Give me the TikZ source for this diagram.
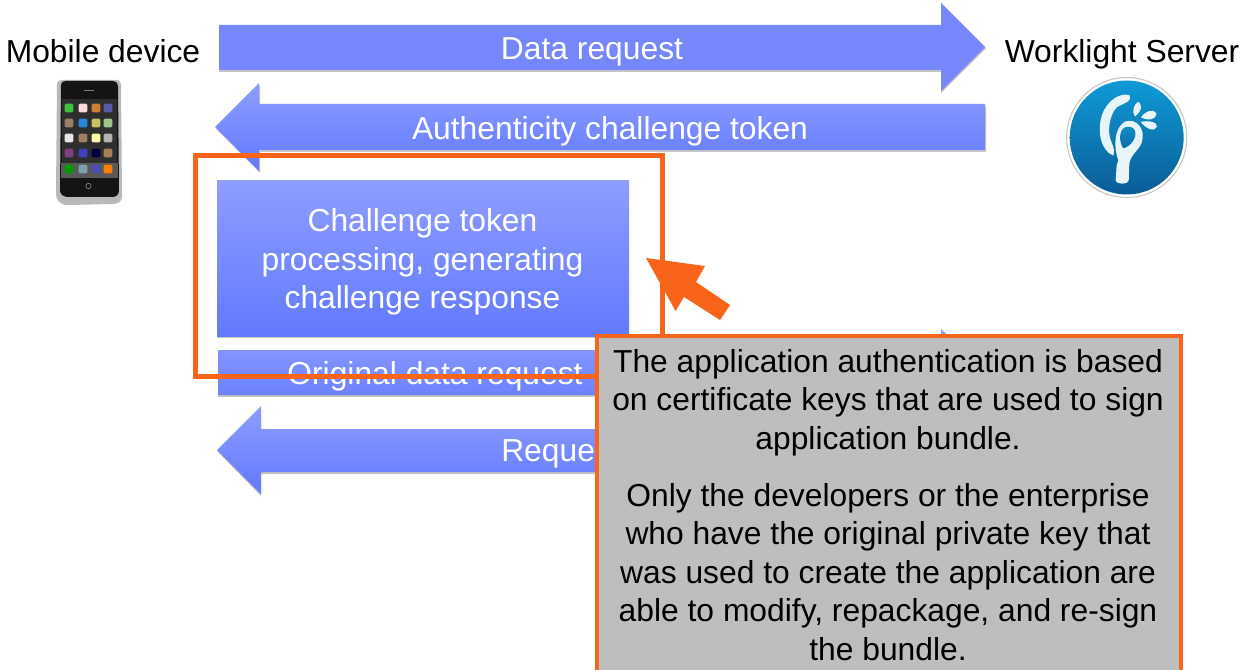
\documentclass[tikz,border=0pt]{standalone}
\usepackage{fontspec}
\setmainfont{Liberation Sans}
\definecolor{orng}{HTML}{F8651A}
\definecolor{grayfill}{HTML}{BEBEBE}
\definecolor{flatblue}{HTML}{7686FB}
\definecolor{gradtop}{HTML}{8E9DFF}
\definecolor{gradbot}{HTML}{6279FF}
\definecolor{shad}{HTML}{C4C4C4}
\definecolor{lblue}{HTML}{0F9AD6}
\definecolor{dblue}{HTML}{0A5C96}
\tikzset{
  lab/.style={font=\fontsize{23.85}{28.9}\selectfont, inner sep=0pt, align=center},
  whitelab/.style={lab, text=white},
  blackflat/.style={lab, text=black},
  gradfill/.style={top color=gradtop, bottom color=gradbot, draw=none},
  flatfill/.style={fill=flatblue, draw=none},
  shadowfill/.style={fill=shad, draw=none},
  icon/.style={minimum size=6.6pt, inner sep=0pt, rounded corners=1pt, draw=none},
  glyph/.style={fill=white!90!lblue, draw=none}
}
\begin{document}
\begin{tikzpicture}[x=0.75pt,y=-0.75pt]
\useasboundingbox (0,0) rectangle (1244,670);
\clip (0,0) rectangle (1244,670);
\fill[white] (0,0) rectangle (1244,670);

% arrows: shadows
\fill[shadowfill] (219,27) -- (941,27) -- (941,5) -- (986,48.5) -- (941,93) -- (941,72) -- (219,72) -- cycle;
\fill[shadowfill] (986,106) -- (986,152) -- (260,152) -- (260,173) -- (216,129) -- (260,85) -- (260,106) -- cycle;
\fill[shadowfill] (217,183) rectangle (629,338);
\fill[shadowfill] (218,352) rectangle (941,397);
\fill[shadowfill] (261,431) -- (1000,431) -- (1000,474) -- (261,474) -- (261,496) -- (218,452) -- (261,408) -- cycle;

% data request
\path[flatfill] (219,25) -- (941,25) -- (941,3) -- (985,47) -- (941,91) -- (941,70) -- (219,70) -- cycle;
\node[whitelab] (datareq) at (592,51.5) {Data request};

% authenticity
\path[gradfill] (985,104) -- (985,150) -- (259,150) -- (259,171) -- (215,127) -- (259,83) -- (259,104) -- cycle;
\node[whitelab] (auth) at (610,131) {Authenticity challenge token};

% challenge box
\path[gradfill] (217,181) rectangle (629,336);
\node[whitelab] (proc) at (422.5,262) {Challenge token\\processing, generating\\challenge response};

% original data request
\path[gradfill] (218,350) -- (941,350) -- (941,329) -- (985,372.5) -- (941,416) -- (941,395) -- (218,395) -- cycle;
\node[whitelab] (orig) at (435,376) {Original data request};

% request
\path[gradfill] (1000,429) -- (1000,472) -- (261,472) -- (261,494) -- (217,450) -- (261,406) -- (261,429) -- cycle;
\node[whitelab, anchor=west] (reque) at (501,454) {Reque};

% orange frame
\draw[orng, line width=3.75pt, line join=miter] (195.5,155.5) rectangle (662,376.5);

% orange arrow
\fill[orng] (646,258) -- (705,266) -- (696,282) -- (730,305) -- (720,320) -- (684,297) -- (675.6,311) -- cycle;

% note
\draw[orng, line width=3pt, fill=grayfill] (597,336) rectangle (1181,690);
\node[blackflat] (note) at (888,505) {The application authentication is based\\on certificate keys that are used to sign\\application bundle.\\[13.9pt]Only the developers or the enterprise\\who have the original private key that\\was used to create the application are\\able to modify, repackage, and re-sign\\the bundle.};

% titles
\node[blackflat] (mobile) at (103,51) {Mobile device};
\node[blackflat] (server) at (1122,54) {Worklight Server};

% phone
\fill[gray!55] (57,84) .. controls (57,81) and (59,80) .. (62,80) -- (116,80) .. controls (120,80) and (121,82) .. (121,85) -- (122,196) .. controls (122,202) and (118,204) .. (112,204) -- (68,205) .. controls (60,205) and (56,200) .. (56,194) -- cycle;
\fill[black!92] (61,85) .. controls (61,82) and (63,81) .. (66,81) -- (113,81) .. controls (116,81) and (118,83) .. (118,86) -- (119,190) .. controls (119,195) and (116,197) .. (112,197) -- (68,197) .. controls (63,197) and (60,194) .. (60,190) -- cycle;
\fill[black!82] (62,99) rectangle (117,163);
\fill[gray!70!black] (61,163) rectangle (118,178);
\draw[gray, line width=0.5pt] (84,90.5) -- (94,90.5);
\draw[gray!80, line width=0.4pt] (88.5,186) circle (2.7);
\foreach \cx/\cy/\col in {
 69/108/green!50!gray, 83/108/red!15!white, 96/108/orange!60!gray, 108/108/gray!70!blue,
 69/123/brown!40!gray, 83/123/blue!45!cyan!70!gray, 96/123/yellow!50!gray, 108/123/cyan!40!yellow!70!gray,
 69/138/gray!20!white, 83/138/brown!50!gray, 96/138/yellow!35!white, 108/138/gray!60!white,
 69/153/violet!50!gray, 83/153/blue!50!gray, 96/153/blue!25!black, 108/153/brown!60!gray,
 69/169/green!60!black, 83/169/cyan!30!gray, 96/169/blue!40!gray, 108/169/orange}
 { \node[icon, fill=\col] at (\cx,\cy) {}; }

% logo
\fill[white] (1126.7,137.5) circle (60);
\draw[gray!45, line width=0.8pt] (1126.7,137.5) circle (60);
\shade[top color=lblue, bottom color=dblue] (1126.7,137.5) circle (57);
\begin{scope}[shift={(900,0)},x=0.25pt,y=-0.25pt]
  \fill[glyph] (688,285) .. controls (660,278) and (622,300) .. (606,345)
     .. controls (590,395) and (603,452) .. (640,467)
     .. controls (645,450) and (640,440) .. (632,420)
     .. controls (622,395) and (628,345) .. (650,322)
     .. controls (668,310) and (698,306) .. (688,285) -- cycle;
  \fill[glyph] (655,482) .. controls (640,440) and (642,385) .. (674,365)
     .. controls (710,352) and (738,388) .. (725,428)
     .. controls (715,452) and (692,465) .. (688,490)
     -- (686,542) .. controls (685,554) and (648,554) .. (647,542) -- (650,495) -- cycle;
  \shade[top color=lblue!80!dblue, bottom color=dblue!70!lblue] (675,382)
     .. controls (658,388) and (655,425) .. (670,445)
     .. controls (690,440) and (712,415) .. (705,392)
     .. controls (700,380) and (685,378) .. (675,382) -- cycle;
  \fill[glyph] (715,305) .. controls (727,315) and (727,330) .. (705,350) .. controls (695,335) and (700,315) .. (715,305) -- cycle;
  \fill[glyph] (723,352) .. controls (735,333) and (762,325) .. (769,340) .. controls (771,358) and (745,364) .. (723,352) -- cycle;
  \fill[glyph] (722,366) .. controls (745,360) and (772,366) .. (771,380) .. controls (765,397) and (738,387) .. (722,366) -- cycle;
\end{scope}
\end{tikzpicture}
\end{document}
